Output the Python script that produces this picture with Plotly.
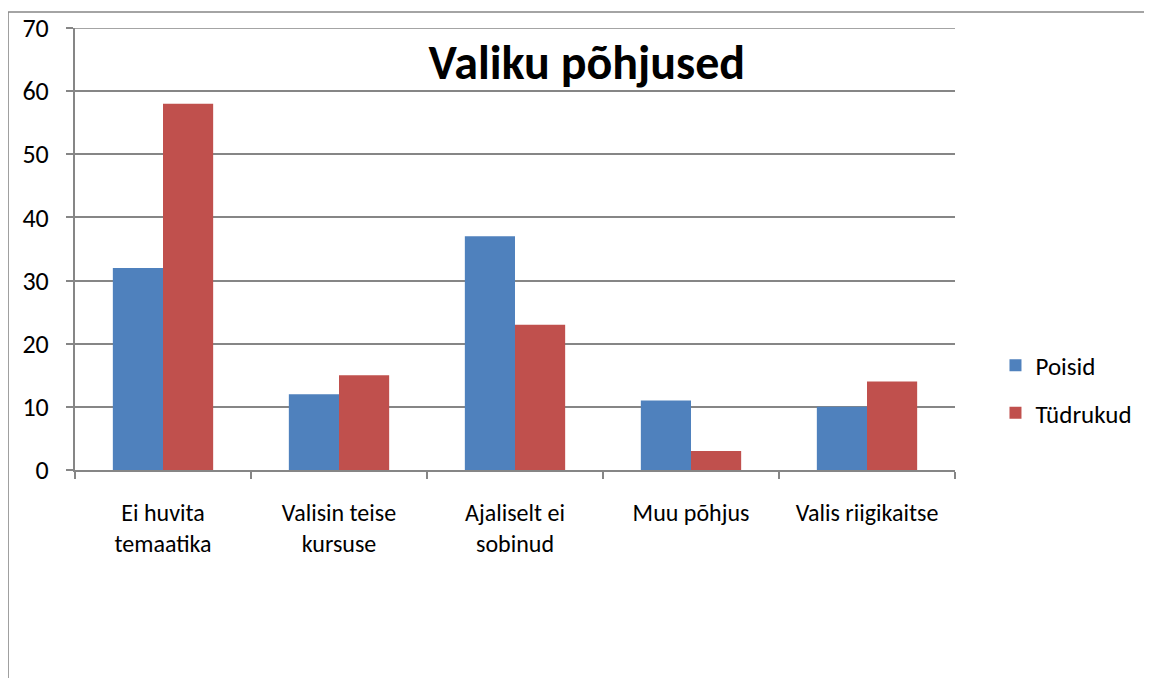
import plotly.graph_objects as go

categories = ["Ei huvita<br>temaatika", "Valisin teise<br>kursuse", "Ajaliselt ei<br>sobinud",
              "Muu põhjus", "Valis riigikaitse"]
poisid = [32, 12, 37, 11, 10]
tudrukud = [58, 15, 23, 3, 14]
y_ticks = [0, 10, 20, 30, 40, 50, 60, 70]

font_family = "Carlito, Lato, sans-serif"
grey = "#868686"

fig = go.Figure()
fig.add_trace(go.Bar(x=categories, y=poisid, name="Poisid", marker_color="#4F81BD",
                     marker_line_width=0, legendgroup="a"))
fig.add_trace(go.Bar(x=categories, y=tudrukud, name="Tüdrukud", marker_color="#C0504D",
                     marker_line_width=0, legendgroup="b"))

# page body has an 8px margin, so the figure is made 8px smaller
fig.update_layout(
    width=1144, height=670,
    margin=dict(l=67, r=197, t=20, b=208),
    paper_bgcolor="white", plot_bgcolor="white",
    font=dict(family=font_family, size=24, color="black"),
    barmode="group", bargap=0.43, bargroupgap=0,
    title=dict(text="<b>Valiku põhjused</b>", font=dict(size=48, family=font_family),
               x=0.506, xanchor="center", y=0.919, yanchor="middle"),
    legend=dict(x=1.046, xanchor="left", y=0.183, yanchor="middle",
                traceorder="grouped", tracegroupgap=12,
                font=dict(size=25), itemwidth=30),
    showlegend=True,
    shapes=[
        dict(type="line", xref="paper", yref="paper", x0=-0.0761, x1=-0.0761, y0=1.036, y1=-0.6,
             line=dict(color=grey, width=1.5)),
        dict(type="line", xref="paper", yref="paper", x0=-0.0761, x1=1.3, y0=1.036, y1=1.036,
             line=dict(color=grey, width=1.5)),
        # top gridline at the last tick (plotly skips gridlines on the plot edge)
        dict(type="line", xref="paper", yref="y", x0=0, x1=1, y0=y_ticks[-1], y1=y_ticks[-1],
             line=dict(color=grey, width=1.5)),
    ],
)
fig.update_xaxes(showline=True, linecolor=grey, linewidth=2, ticks="outside", tickson="boundaries",
                 ticklen=7, tickcolor=grey, tickwidth=2, showgrid=False, automargin=False,
                 ticklabelstandoff=20, tickfont=dict(size=24))
fig.update_yaxes(range=[0, 70], tickvals=y_ticks, showline=True, linecolor=grey, linewidth=2,
                 ticks="outside", ticklen=7, tickcolor=grey, tickwidth=2, automargin=False,
                 showgrid=True, gridcolor=grey, gridwidth=1.5, zeroline=False,
                 ticklabelstandoff=12, tickfont=dict(size=26))

fig.write_html("out.html")
